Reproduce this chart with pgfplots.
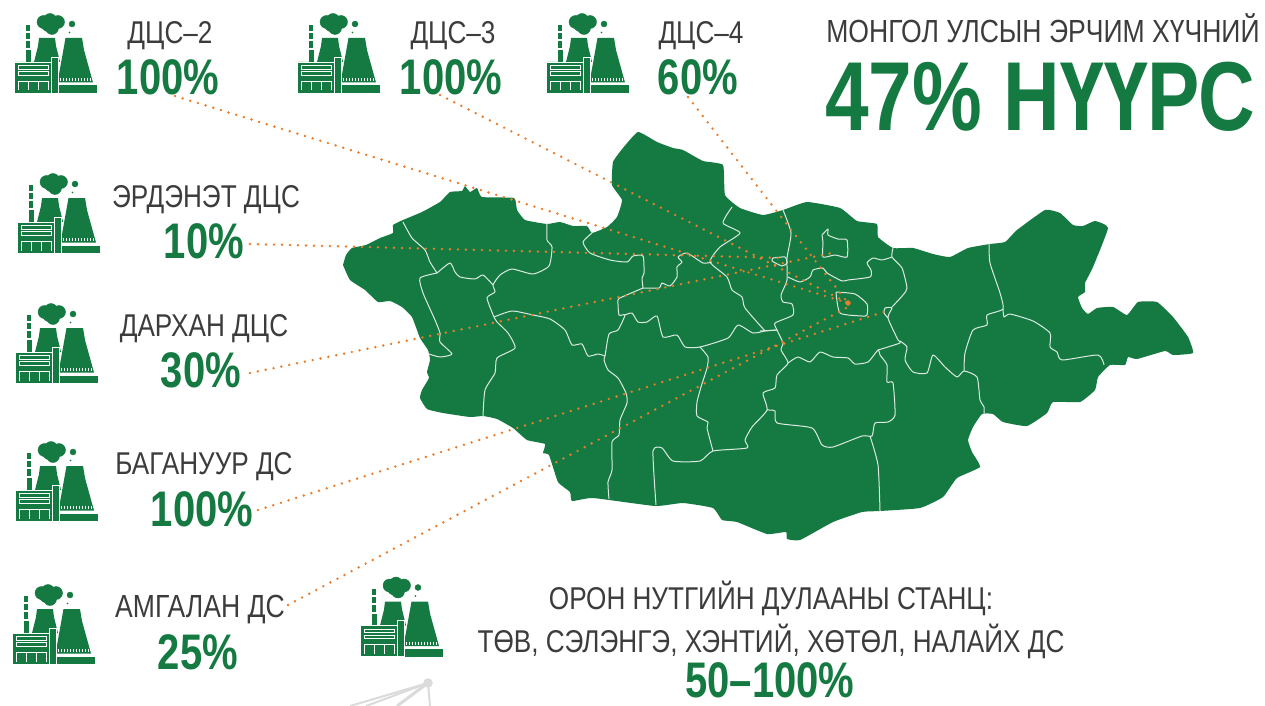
\documentclass[border=0pt]{standalone}
\usepackage{pgfplots}
\pgfplotsset{compat=1.18}
\usepackage{fontspec}
\setmainfont{Liberation Sans}
\newfontfamily\lt[FakeStretch=0.83]{Liberation Sans}
\newfontfamily\bd[FakeStretch=0.80]{Liberation Sans}[BoldFont={Liberation Sans Bold}]
\definecolor{gr}{HTML}{147A41}
\definecolor{og}{HTML}{E87D2B}
\definecolor{tx}{HTML}{3C3C3C}
\newcommand{\ip}[2]{\addplot[#1,forget plot] table[row sep=\\,header=false,x expr=\thisrowno{0}+\dx,y expr=\thisrowno{1}+\dy]{#2};}
\newcommand{\iconat}[2]{%
\def\dx{#1}\def\dy{#2}%
\ip{only marks,mark=*,mark size=6.5,gr}{43.5 22\\50 20\\58 22\\52 28\\48 25\\}
\ip{only marks,mark=*,mark size=3,gr}{72 24\\}
\ip{only marks,mark=*,mark size=0.7,gr}{69.5 32.5\\}
\ip{fill=gr,draw=none}{26 25\\30 25\\30 31\\26 31\\}
\ip{fill=gr,draw=none}{26 33\\30 33\\30 39\\26 39\\}
\ip{fill=gr,draw=none}{26 41\\30 41\\30 48\\26 48\\}
\ip{fill=gr,draw=none}{25.5 50\\30.5 50\\30.5 62\\25.5 62\\}
\ip{fill=gr,draw=none}{39 38\\55 38\\56 46\\60 62\\34 62\\38 46\\}
\ip{fill=gr,draw=none}{65.5 38\\82 38\\84 50\\93 82.5\\57.5 82.5\\63 52\\}
\ip{white,line width=3pt,dash pattern=on 1.4pt off 1.6pt}{60 79.5\\91 79.5\\}
\ip{fill=gr,draw=none}{57 85.5\\97 85.5\\97 93\\57 93\\}
\ip{fill=gr,draw=white,line width=0.7pt}{14.6 62\\51 62\\51 93.3\\14.6 93.3\\14.6 62\\}
\ip{fill=gr,draw=white,line width=0.7pt}{51 57\\58 57\\58 93.3\\51 93.3\\51 57\\}
\ip{white,line width=0.8pt}{18 65.5\\48 65.5\\48 69\\18 69\\18 65.5\\}
\ip{white,line width=0.8pt}{18 71.5\\48 71.5\\48 75\\18 75\\18 71.5\\}
\ip{white,line width=0.8pt}{18.3 90.5\\18.3 81\\48 81\\48 90.5\\}
\ip{white,line width=0.8pt}{28 81\\28 90.5\\}
\ip{white,line width=0.8pt}{38 81\\38 90.5\\}
}
\newcommand{\brd}[1]{\addplot[white!85!gr,line width=1pt,forget plot,line join=round,smooth,tension=0.35] coordinates {#1};}
\newcommand{\dotl}[1]{\addplot[og,line width=2.7pt,line cap=round,dash pattern=on 0pt off 8pt,forget plot] coordinates {#1};}
\newcommand{\lab}[4]{\node[anchor=base,inner sep=0pt,text=tx,font=\lt\fontsize{#4}{#4}\selectfont] at (axis cs:#1,#2) {#3};}
\newcommand{\val}[3]{\node[anchor=base,inner sep=0pt,text=gr,font=\bd\bfseries\fontsize{50}{50}\selectfont] at (axis cs:#1,#2) {#3};}
\begin{document}
\begin{tikzpicture}
\begin{axis}[scale only axis,width=1265pt,height=706pt,xmin=0,xmax=1265,ymin=0,ymax=706,y dir=reverse,hide axis,clip=true]
\addplot[fill=white,draw=none,forget plot] coordinates {(0,0)(1265,0)(1265,706)(0,706)} --cycle;
% crane in the background
\addplot[black!14,line width=2pt,forget plot] coordinates {(350,706)(428,683)};
\addplot[black!14,line width=2pt,forget plot] coordinates {(366,706)(428,683)};
\addplot[black!14,line width=3pt,forget plot] coordinates {(397,706)(428,683)};
\addplot[black!14,line width=2pt,forget plot] coordinates {(430,706)(428,683)};
\addplot[only marks,mark=*,mark size=4.5,black!14,forget plot] coordinates {(428,683)};
% map
\addplot[fill=gr,draw=none,forget plot,smooth,tension=0.25] coordinates {
(343,265)(346,255)(352,248)(366,245)(380,238)(393,233)(393,225)(403,220)(422,212)(440,202)(450,192)(462,191)(465,186)(470,192)(477,188)(482,197)(514,198)(517,210)(525,220)(547,224)(560,222)(573,226)(587,226)(592,233)(607,227)(617,217)(622,200)(612,185)(613,162)(623,148)(638,132)(657,142)(673,148)(683,150)(703,161)(723,165)(725,195)(740,208)(763,215)(783,210)(807,202)(840,208)(857,221)(877,224)(878,237)(893,248)(913,248)(933,254)(950,257)(968,248)(990,244)(1005,242)(1017,230)(1045,210)(1060,213)(1073,225)(1083,226)(1095,221)(1108,228)(1093,267)(1085,283)(1085,292)(1078,297)(1082,308)(1088,314)(1097,308)(1113,307)(1127,315)(1138,302)(1157,302)(1173,317)(1188,337)(1193,353)(1173,355)(1165,351)(1137,359)(1128,357)(1125,365)(1110,365)(1098,377)(1095,390)(1080,402)(1053,402)(1047,413)(1027,426)(1003,422)(993,414)(982,414)(973,427)(968,440)(972,452)(980,467)(957,478)(943,497)(920,508)(880,511)(862,512)(833,522)(800,540)(787,539)(786,532)(767,534)(737,522)(722,520)(713,508)(683,503)(655,506)(593,498)(572,501)(570,492)(558,482)(549,455)(543,453)(545,444)(527,440)(513,428)(497,419)(483,416)(470,417)(443,413)(427,409)(420,398)(422,390)(429,378)(427,372)(430,360)(428,350)(420,338)(412,317)(402,307)(390,301)(378,302)(365,290)(350,280)(343,265)};
% provinces
\brd{(403,222)(412,238)(425,250)(430,262)(437,273)}
\brd{(437,273)(420,278)(423,293)(435,320)(440,333)(440,342)(452,354)(440,357)(429,354)}
\brd{(437,273)(450,263)(455,272)(460,277)(475,279)(483,275)(493,285)}
\brd{(547,224)(547,240)(552,247)(549,266)(533,274)(512,269)(500,275)(493,285)(495,292)(487,298)(494,317)}
\brd{(494,317)(512,311)(533,315)(550,319)(565,330)(572,345)(582,344)(588,356)(598,354)(605,356)}
\brd{(494,317)(497,322)(508,333)(515,348)(497,358)(495,373)(485,390)(483,416)}
\brd{(592,233)(583,242)(590,253)(610,260)(627,262)(633,256)(643,256)(644,273)(642,278)(643,288)}
\brd{(643,288)(622,297)(618,300)(619,315)(625,315)(618,330)(609,334)(605,356)(604,360)(608,370)(618,378)(626,393)(627,403)(620,420)(619,435)(612,442)(612,470)(608,482)(609,499)}
\brd{(625,315)(632,313)(638,322)(647,322)(657,316)(663,337)(677,335)(685,347)(700,347)(728,338)(738,325)(753,333)(765,331)(777,330)}
\brd{(643,288)(659,288)(662,283)(670,286)(677,277)(677,267)(682,262)(678,257)(687,253)(703,263)(712,262)}
\brd{(732,207)(723,223)(740,233)(720,247)(710,262)(727,277)(732,290)(742,297)(745,308)(765,331)}
\brd{(783,210)(791,233)(787,258)(787,280)(781,295)(783,302)(792,304)(793,315)(775,323)(777,330)(783,343)(781,350)(788,363)(777,375)(775,388)(763,393)(767,410)(752,427)(745,440)(747,448)(713,451)(700,461)(673,461)(662,448)(653,451)(656,505)}
\brd{(777,330)(760,331)}
\brd{(713,451)(707,428)(708,422)(697,416)(697,402)(701,387)(707,368)(708,357)(700,347)}
\brd{(767,410)(775,411)(777,423)(812,428)(822,445)(833,447)(862,436)(872,436)(875,423)(888,422)(895,415)(893,383)(887,382)(887,365)(880,355)(878,350)(868,362)(855,364)(848,358)(833,357)(820,352)(810,362)(798,357)(788,363)}
\brd{(870,436)(878,465)(880,511)}
\brd{(878,350)(900,343)(898,340)(888,318)(892,308)(885,308)(884,313)(888,318)}
\brd{(892,307)(903,295)(907,288)(902,268)(892,257)(893,248)}
\brd{(892,257)(882,260)(873,258)(867,263)(871,270)(870,277)(848,280)(842,281)(827,273)(823,268)(813,270)(810,277)(800,282)(788,277)}
\brd{(900,341)(907,347)(905,360)(913,372)(927,373)(933,355)(945,367)(957,377)(964,371)(977,377)(980,400)(984,407)(984,414)}
\brd{(964,371)(965,353)(973,330)(987,325)(987,315)(1003,309)(1000,293)(990,263)(989,244)}
\brd{(1003,309)(1004,317)(1010,314)(1033,321)(1050,333)(1050,347)(1057,352)(1062,360)(1098,355)(1104,365)}
\brd{(836,292)(855,294)(867,304)(867,315)(862,316)(840,313)(836,292)}
\brd{(822,235)(828,229)(828,235)(838,239)(847,240)(847,257)(835,255)(823,257)(823,243)(822,235)}
\brd{(773,258)(785,257)(787,263)(782,266)(772,261)(773,258)}
% dotted leaders
\dotl{(175,96)(848,303)}
\dotl{(440,95)(848,303)}
\dotl{(688,97)(848,303)}
\dotl{(250,244)(785,258)}
\dotl{(250,373)(837,252)}
\dotl{(258,510)(890,310)}
\dotl{(288,605)(848,307)}
\addplot[only marks,mark=*,mark size=2.4,og,forget plot] coordinates {(848,303)};
% icons
\iconat{0}{0}
\iconat{283}{0}
\iconat{532}{0}
\iconat{3}{160}
\iconat{1}{290}
\iconat{1}{428}
\iconat{-2}{571}
\iconat{346}{563.5}
% texts
\lab{170}{44}{ДЦС–2}{31.5}
\val{168}{95}{100\%}
\lab{453}{44}{ДЦС–3}{31.5}
\val{451}{95}{100\%}
\lab{701}{44}{ДЦС–4}{31.5}
\val{698}{95}{60\%}
\lab{1043}{43}{МОНГОЛ УЛСЫН ЭРЧИМ ХҮЧНИЙ}{32}
\node[anchor=base,inner sep=0pt,text=gr,font=\bd\bfseries\fontsize{98}{98}\selectfont] at (axis cs:1040,130) {47\% НҮҮРС};
\lab{206}{207}{ЭРДЭНЭТ ДЦС}{31.5}
\val{204}{258}{10\%}
\lab{204}{336}{ДАРХАН ДЦС}{31.5}
\val{201}{387}{30\%}
\lab{204}{474}{БАГАНУУР ДС}{31.5}
\val{202}{526}{100\%}
\lab{200}{617}{АМГАЛАН ДС}{32}
\val{198}{669}{25\%}
\lab{771}{609}{ОРОН НУТГИЙН ДУЛААНЫ СТАНЦ:}{31.5}
\lab{771}{652}{ТӨВ, СЭЛЭНГЭ, ХЭНТИЙ, ХӨТӨЛ, НАЛАЙХ ДС}{31.5}
\val{770}{697}{50–100\%}
\end{axis}
\end{tikzpicture}
\end{document}
